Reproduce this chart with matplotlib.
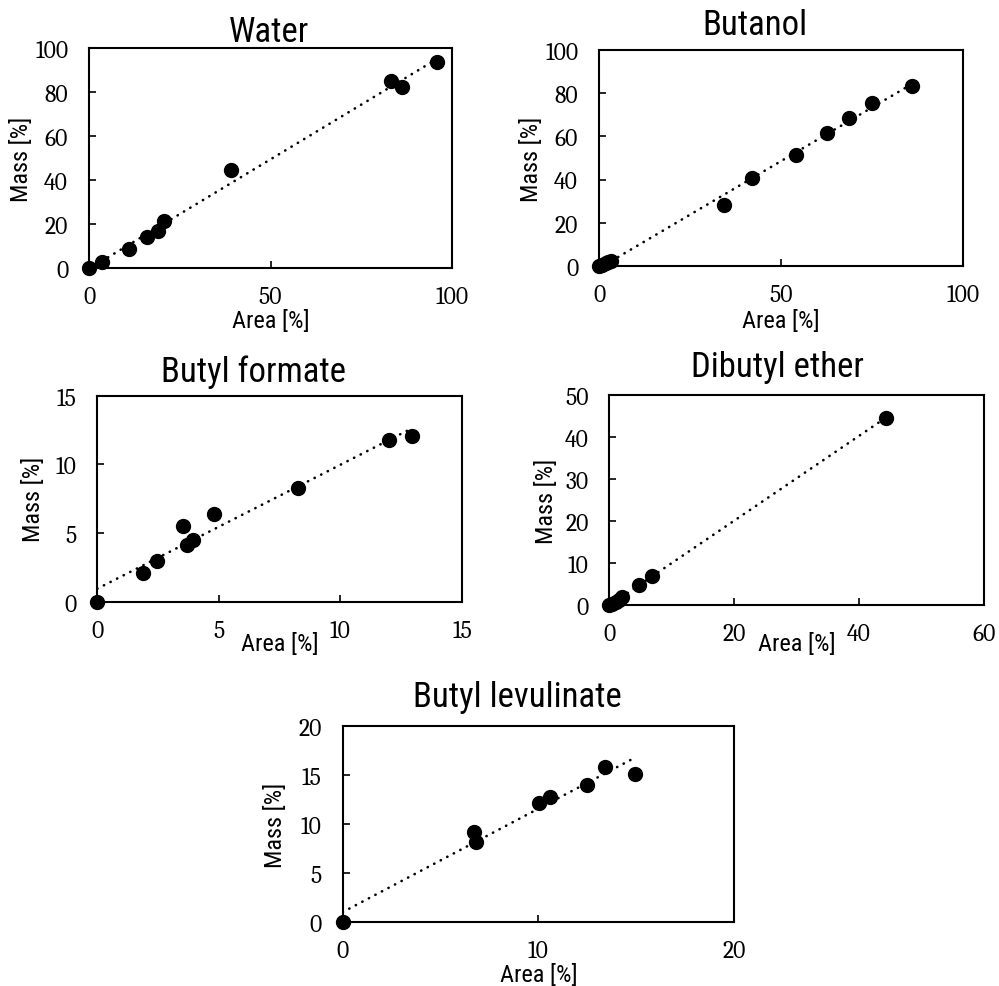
import numpy as np
import matplotlib
matplotlib.use("Agg")
import matplotlib.pyplot as plt

# ---- data ----
titles = ["Water", "Butanol", "Butyl formate", "Dibutyl ether", "Butyl levulinate"]

water_area = [0, 3.6, 11.1, 16.1, 18.9, 20.7, 39.1, 83.1, 86.1, 95.8]
water_mass = [0, 2.7, 8.6, 14.2, 17.0, 21.2, 44.5, 85.2, 82.1, 93.5]

butanol_area = [0, 0.8, 1.8, 2.6, 3.3, 34.4, 42.2, 54.2, 62.6, 68.8, 75.0, 86.0]
butanol_mass = [0, 0.7, 1.4, 2.0, 2.4, 28.3, 40.6, 51.5, 61.5, 68.6, 75.4, 83.4]

formate_area = [0, 1.86, 2.47, 3.52, 3.67, 3.92, 4.79, 8.24, 12.01, 12.94]
formate_mass = [0, 2.09, 2.99, 5.49, 4.13, 4.51, 6.36, 8.25, 11.77, 12.09]

ether_area = [0, 0.4, 1.0, 1.5, 2.1, 4.75, 6.89, 44.3]
ether_mass = [0, 0.3, 0.8, 1.3, 1.9, 4.76, 6.98, 44.6]

levulinate_area = [0, 6.70, 6.80, 10.02, 10.6, 12.47, 13.39, 14.96]
levulinate_mass = [0, 9.18, 8.12, 12.15, 12.8, 14.03, 15.80, 15.09]

x_ticks = [[0, 50, 100], [0, 50, 100], [0, 5, 10, 15], [0, 20, 40, 60], [0, 10, 20]]
y_ticks = [[0, 20, 40, 60, 80, 100], [0, 20, 40, 60, 80, 100], [0, 5, 10, 15],
           [0, 10, 20, 30, 40, 50], [0, 5, 10, 15, 20]]

series = [(water_area, water_mass), (butanol_area, butanol_mass),
          (formate_area, formate_mass), (ether_area, ether_mass),
          (levulinate_area, levulinate_mass)]

# ---- layout (pixel boxes: left, right, top, bottom) ----
W, H = 999, 987
boxes = [(89, 452, 49, 269), (599, 962.7, 50.7, 267.3), (97.3, 462, 396.7, 602.7),
         (609.3, 984, 396, 606), (342.7, 734, 727.3, 922.7)]
title_pos = [(0.495, 1.033), (0.429, 1.0725), (0.428, 1.073), (0.449, 1.092), (0.447, 1.103)]
xlabel_top_px = [41, 42.5, 30, 27, 41]
ylabel_off_px = [67, 67, 64, 62.7, 67.7]

narrow = ["Roboto Condensed", "Liberation Sans", "DejaVu Sans"]
serif = ["Caladea", "DejaVu Serif"]

fig = plt.figure(figsize=(W / 100, H / 100), dpi=100)

for i, (ttl, (xs, ys)) in enumerate(zip(titles, series)):
    l, r, t, b = boxes[i]
    ax = fig.add_axes([l / W, 1 - b / H, (r - l) / W, (b - t) / H])
    xs = np.array(xs, float)
    ys = np.array(ys, float)
    k, c = np.polyfit(xs, ys, 1)
    xf = np.array([xs.min(), xs.max()])
    ax.plot(xf, k * xf + c, color="black", lw=1.9,
            linestyle=(0, (0.1, 2.7)), dash_capstyle="round", zorder=2)
    ax.plot(xs, ys, "o", color="black", markersize=10, zorder=3, clip_on=False)

    ax.set_xlim(x_ticks[i][0], x_ticks[i][-1])
    ax.set_ylim(y_ticks[i][0], y_ticks[i][-1])
    ax.set_xticks(x_ticks[i])
    ax.set_yticks(y_ticks[i])
    for sp in ax.spines.values():
        sp.set_linewidth(1.5)
    ax.tick_params(axis="x", direction="in", length=5, width=1.2, pad=12.5,
                   labelsize=17)
    ax.tick_params(axis="y", direction="in", length=5, width=1.2, pad=15,
                   labelsize=17)
    for lab in ax.get_xticklabels() + ax.get_yticklabels():
        lab.set_family(serif)

    ax.set_title(ttl, family=narrow, fontsize=25, x=title_pos[i][0],
                 y=title_pos[i][1], pad=0, va="baseline")
    ax.set_xlabel("Area [%]", family=narrow, fontsize=17.5, va="top")
    ax.xaxis.set_label_coords(0.5, -xlabel_top_px[i] / (b - t))
    ax.set_ylabel("Mass [%]", family=narrow, fontsize=17.5, va="center")
    ax.yaxis.set_label_coords(-ylabel_off_px[i] / (r - l), 0.5)

fig.savefig("out.png", dpi=100)
